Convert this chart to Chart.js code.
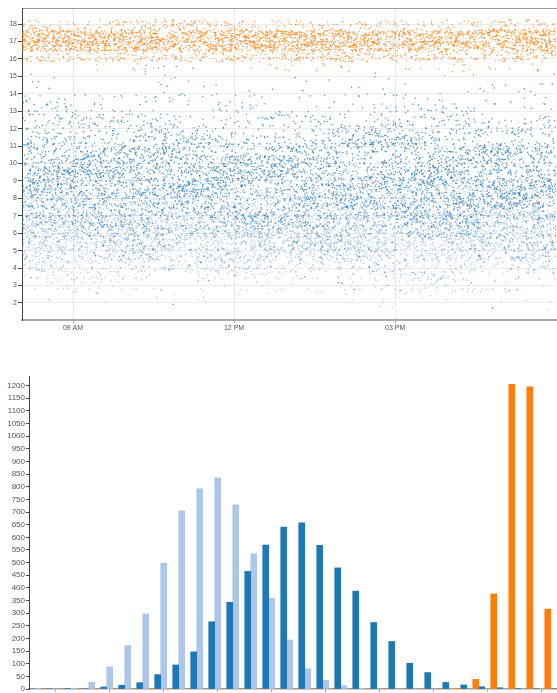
<!DOCTYPE html>
<html>
<head>
<meta charset="utf-8">
<script src="https://cdn.jsdelivr.net/npm/chart.js@4.4.1/dist/chart.umd.min.js"></script>
<style>
  body { margin: 0; background: #fff; overflow: hidden; width: 557px; height: 693px; }
  #top { position: absolute; left: 0; top: 0; }
  #bottom { position: absolute; left: 0; top: 370px; }
</style>
</head>
<body>
<canvas id="top" width="557" height="335"></canvas>
<canvas id="bottom" width="557" height="340"></canvas>
<script>
// histogram counts per bin (bin 0 .. 29)
const histOrange = [0, 0, 0, 0, 0, 0, 0, 0, 0, 0, 0, 0, 0, 0, 0, 0, 0, 0, 0, 0, 0, 0, 0, 0, 3, 38, 376, 1205, 1195, 316];
const histDark = [0, 0, 2, 0, 8, 15, 25, 57, 95, 147, 266, 343, 465, 569, 640, 657, 568, 479, 387, 263, 188, 102, 65, 26, 16, 9, 5, 2, 0, 0];
const histLight = [2, 0, 3, 27, 88, 172, 297, 497, 705, 792, 835, 728, 535, 359, 194, 80, 34, 14, 3, 0, 0, 0, 0, 0, 0, 0, 0, 0, 0, 0];
const histTickPos = [3, 6, 9, 12, 15, 18, 21, 24, 27];
const histTickLabels = ["2", "4", "6", "8", "10", "12", "14", "16", "18"];
const histYTicks = [0, 50, 100, 150, 200, 250, 300, 350, 400, 450, 500, 550, 600, 650, 700, 750, 800, 850, 900, 950, 1000, 1050, 1100, 1150, 1200];

// upper chart: value range of each histogram bin and the time axis (minutes after midnight)
const binStart = 0.236;
const binWidth = 0.6;
const timeTicks = [540, 720, 900];
const timeTickLabels = ["09 AM", "12 PM", "03 PM"];
const valueTicks = [2, 3, 4, 5, 6, 7, 8, 9, 10, 11, 12, 13, 14, 15, 16, 17, 18];

const orange = "#ff7f0e";
const dark = "#1f77b4";
const light = "#aec7e8";
const fontFam = "'Liberation Sans', Arial, sans-serif";

// fixed integer hash, used only to place a bin's points inside the bin
function spread(n) {
  n = (n ^ 61) ^ (n >>> 16);
  n = Math.imul(n, 9);
  n ^= n >>> 4;
  n = Math.imul(n, 0x27d4eb2d);
  n ^= n >>> 15;
  return (n >>> 0) / 4294967296;
}

function pointsFromHist(hist, offset) {
  const pts = [];
  let n = offset;
  hist.forEach((count, k) => {
    for (let j = 0; j < count; j++) {
      const t = 483 + spread(2 * n + 1) * (1080 - 483);
      const v = binStart + (k + spread(2 * n + 2)) * binWidth;
      pts.push({ x: t, y: v });
      n++;
    }
  });
  return pts;
}

const plain = (v) => String(v);

const scatter = new Chart(document.getElementById("top"), {
  type: "scatter",
  data: {
    datasets: [
      { label: "c", data: pointsFromHist(histOrange, 11), backgroundColor: "rgba(255,127,14,0.7)" },
      { label: "b", data: pointsFromHist(histDark, 50003), backgroundColor: "rgba(31,119,180,0.7)" },
      { label: "a", data: pointsFromHist(histLight, 200011), backgroundColor: "rgba(150,182,224,0.7)" },
    ],
  },
  options: {
    responsive: false,
    animation: false,
    parsing: false,
    normalized: true,
    layout: { padding: { top: 8, right: 0, left: 0, bottom: 0 } },
    elements: { point: { radius: 0.8, borderWidth: 0, hoverRadius: 0.8 } },
    plugins: { legend: { display: false }, tooltip: { enabled: false } },
    scales: {
      x: {
        type: "linear",
        min: 483,
        max: 1080,
        afterBuildTicks: (s) => { s.ticks = timeTicks.map((v) => ({ value: v })); },
        afterFit: (s) => { s.height = 15; },
        ticks: {
          autoSkip: false,
          maxRotation: 0,
          padding: 1,
          color: "#555",
          font: { family: fontFam, size: 7 },
          callback: (v, i) => timeTickLabels[i],
        },
        grid: { color: "#e9e9e9", tickColor: "#aaa", tickLength: 3 },
        border: { color: "#aaa", width: 2 },
      },
      x2: {
        type: "linear",
        position: "top",
        afterFit: (s) => { s.height = 0; },
        ticks: { display: false },
        grid: { display: false },
        border: { color: "#999", width: 1 },
      },
      y: {
        min: 1.02,
        max: 18.92,
        afterBuildTicks: (s) => { s.ticks = valueTicks.map((v) => ({ value: v })); },
        afterFit: (s) => { s.width = 22; },
        ticks: { padding: 1, color: "#555", font: { family: fontFam, size: 7 }, callback: plain },
        grid: { color: "#ececec", tickColor: "#444", tickLength: 4 },
        border: { color: "#444", width: 1 },
      },
    },
  },
});

const hist = new Chart(document.getElementById("bottom"), {
  type: "bar",
  data: {
    datasets: [
      { label: "c", data: histOrange.map((c, k) => ({ x: k, y: c })), backgroundColor: orange },
      { label: "b", data: histDark.map((c, k) => ({ x: k, y: c })), backgroundColor: dark },
      { label: "a", data: histLight.map((c, k) => ({ x: k, y: c })), backgroundColor: light },
    ],
  },
  options: {
    responsive: false,
    animation: false,
    layout: { padding: { top: 6, right: 0, left: 0, bottom: 0 } },
    barPercentage: 1,
    categoryPercentage: 1,
    plugins: { legend: { display: false }, tooltip: { enabled: false } },
    scales: {
      x: {
        type: "linear",
        offset: false,
        min: -0.15,
        max: 29.18,
        afterBuildTicks: (s) => { s.ticks = histTickPos.map((v) => ({ value: v - 1 / 6 })); },
        afterFit: (s) => { s.height = 21; },
        ticks: {
          autoSkip: false,
          maxRotation: 0,
          padding: 2,
          color: "#555",
          font: { family: fontFam, size: 8 },
          callback: (v, i) => histTickLabels[i],
        },
        grid: { drawOnChartArea: false, tickColor: "#aaa", tickLength: 3 },
        border: { color: "#999", width: 1.5 },
      },
      y: {
        min: 0,
        max: 1238,
        afterBuildTicks: (s) => { s.ticks = histYTicks.map((v) => ({ value: v })); },
        afterFit: (s) => { s.width = 29; },
        ticks: { padding: 1, color: "#555", font: { family: fontFam, size: 8 }, callback: plain },
        grid: { drawOnChartArea: false, tickColor: "#444", tickLength: 3 },
        border: { color: "#444", width: 1 },
      },
    },
  },
});
</script>
</body>
</html>
